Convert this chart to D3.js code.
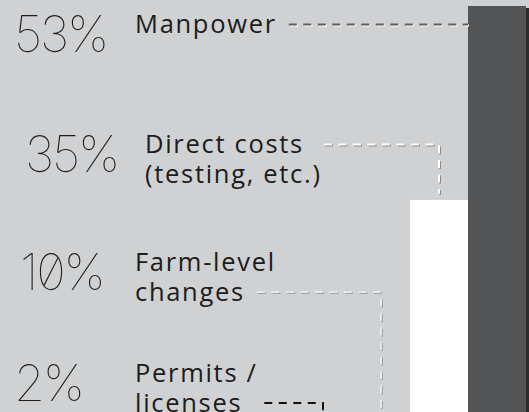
<!DOCTYPE html>
<html>
<head>
<meta charset="utf-8">
<script src="https://cdn.jsdelivr.net/npm/d3@7"></script>
<style>
  html, body { margin: 0; padding: 0; background: #d0d1d3; overflow: hidden; }
  svg { display: block; }
  .pct { font-family: "Inter", "Lato", sans-serif; font-weight: 135; font-feature-settings: "zero" 1; fill: #1c1c1c; }
  .lbl { font-family: "Open Sans", "Noto Sans", sans-serif; font-weight: 400; fill: #1c1c1c; }
</style>
</head>
<body>
<div id="chart"></div>
<script>
// ---- data ----
const categories = ["Manpower", "Direct costs", "Farm-level changes", "Permits / licenses"];
const values = [53, 35, 10, 2];
const labelLines = [["Manpower"], ["Direct costs", "(testing, etc.)"], ["Farm-level", "changes"], ["Permits /", "licenses"]];
const barColors = ["#535456", "#ffffff", "#e8e9ea", "#141414"];
const leaderColors = ["#5e5f61", "#ffffff", "#e6e7e8", "#111111"];
const leaderShadows = ["#ffffff", "#8a8b8d", "#a2a3a5", "#d0d1d3"];

// ---- layout (annotation placement, not data) ----
const W = 529, H = 412;
const pctX = [14, 25, 20, 14];
const lblX = [135, 145, 135, 135];
const lblBaseline = [33, 153, 271, 382];
const leaderLineIdx = [0, 0, 1, 1];
const leaderGap = [12, 20, 12, 22];
const lineH = 29.5;

const svg = d3.select("#chart").append("svg").attr("width", W).attr("height", H);
svg.append("rect").attr("width", W).attr("height", H).attr("fill", "#d0d1d3");

const order = categories.slice().reverse(); // Permits leftmost
const x = d3.scaleBand().domain(order).range([294, 526]).padding(0);
const y = d3.scaleLinear().domain([0, 53]).range([577, 6]);

// bars (left to right, each with its drop shadow)
const barG = svg.append("g");
order.forEach(cat => {
  const i = categories.indexOf(cat);
  const v = values[i];
  barG.append("rect")
    .attr("x", x(cat) + 3.5).attr("y", y(v) + 2)
    .attr("width", x.bandwidth()).attr("height", y(0) - y(v))
    .attr("fill", "#2c2c2d");
  barG.append("rect")
    .attr("x", x(cat)).attr("y", y(v))
    .attr("width", x.bandwidth()).attr("height", y(0) - y(v))
    .attr("fill", barColors[i]);
});

// labels
categories.forEach((cat, i) => {
  const g = svg.append("g");
  g.append("text").attr("class", "pct")
    .attr("x", pctX[i]).attr("y", lblBaseline[i] + 18.5)
    .attr("font-size", 50).attr("letter-spacing", -2.2)
    .text(values[i] + "%");
  const t = g.append("text").attr("class", "lbl")
    .attr("font-size", 25.5).attr("letter-spacing", 1.7);
  labelLines[i].forEach((ln, k) => {
    t.append("tspan").attr("x", lblX[i]).attr("y", lblBaseline[i] + k * lineH).text(ln);
  });
  // leader
  const tsp = t.selectAll("tspan").nodes()[leaderLineIdx[i]];
  const endText = lblX[i] + tsp.getComputedTextLength();
  const ly = lblBaseline[i] + leaderLineIdx[i] * lineH - 8.5;
  const x0 = endText + leaderGap[i];
  const top = y(values[i]);
  let path;
  if (top < ly) {
    path = d3.line()([[x0, ly], [x(cat), ly]]);
  } else {
    const cx = x(cat) + x.bandwidth() / 2;
    path = d3.line()([[x0, ly], [cx, ly], [cx, top - 6]]);
  }
  g.append("path").attr("d", path).attr("transform", "translate(1,1)")
    .attr("fill", "none").attr("stroke", leaderShadows[i]).attr("stroke-width", 2)
    .attr("stroke-dasharray", "8,6.5");
  g.append("path").attr("d", path)
    .attr("fill", "none").attr("stroke", leaderColors[i]).attr("stroke-width", 2)
    .attr("stroke-dasharray", "8,6.5");
});
</script>
</body>
</html>
